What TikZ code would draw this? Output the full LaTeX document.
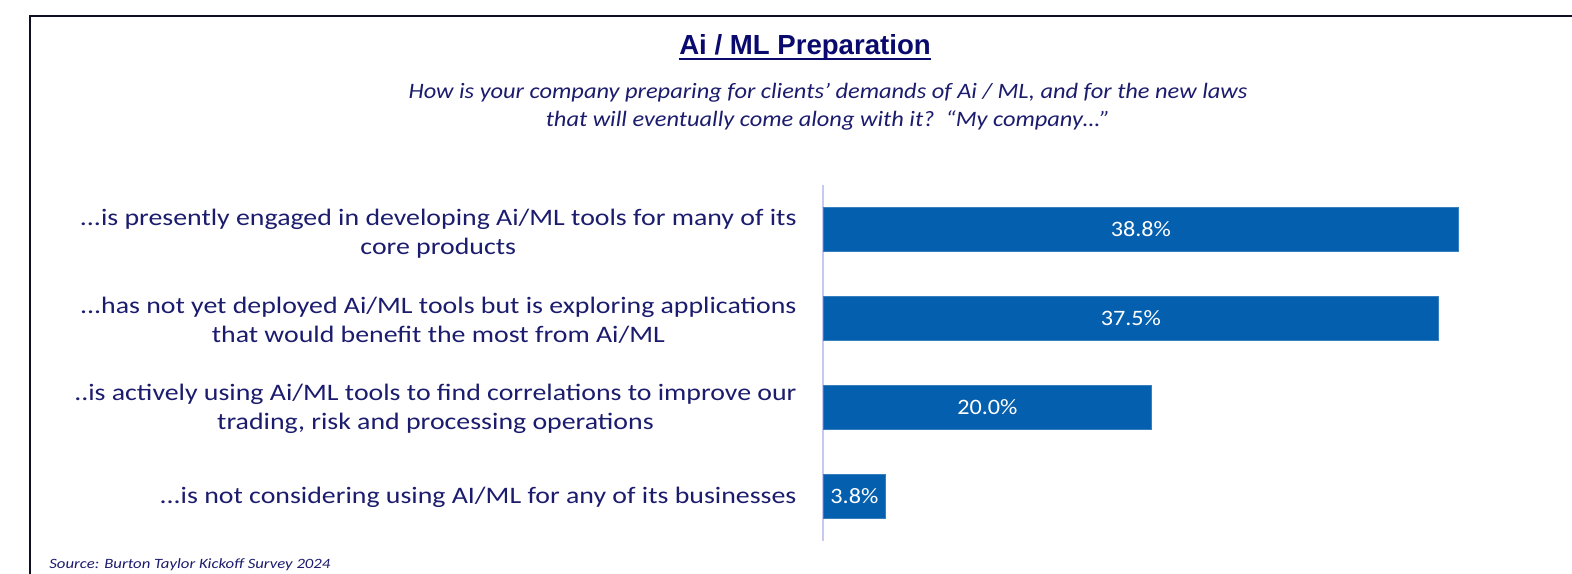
\documentclass[tikz,border=0pt]{standalone}
\usepackage{fontspec}
\setmainfont{Carlito}
\newfontfamily\titlefont{Liberation Sans}
\newfontfamily\labelfont[FakeStretch=1.18]{Carlito}
\newfontfamily\subfont[FakeStretch=1.11]{Carlito}
\newfontfamily\valfont[FakeStretch=1.1]{Carlito}
\definecolor{navytxt}{RGB}{28,28,110}
\definecolor{titlenavy}{RGB}{10,10,110}
\definecolor{barblue}{RGB}{5,95,175}
\definecolor{axislav}{RGB}{200,200,240}
\definecolor{framecol}{RGB}{15,15,35}
\begin{document}
\begin{tikzpicture}[x=0.5pt,y=-0.5pt,
  titlestyle/.style={inner sep=0pt,text=titlenavy,font=\titlefont\bfseries\fontsize{13.8}{16}\selectfont},
  ulstyle/.style={draw=titlenavy,line width=1pt},
  subtitlestyle/.style={inner sep=0pt,align=center,text=navytxt,font=\subfont\itshape\fontsize{11}{14}\selectfont},
  labelstyle/.style={anchor=east,inner sep=0pt,align=center,text=navytxt,font=\labelfont\fontsize{11.8}{14.5}\selectfont},
  barstyle/.style={anchor=west,fill=barblue,draw=barblue!80!white,line width=0.4pt,minimum height=22pt,inner sep=0pt,text=white,font=\valfont\fontsize{11}{12}\selectfont},
  axisstyle/.style={draw=axislav,line width=0.8pt},
  framestyle/.style={draw=framecol,line width=1.4pt},
  sourcestyle/.style={inner sep=0pt,anchor=base west,text=navytxt,font=\labelfont\itshape\fontsize{7.1}{8}\selectfont}
]
\useasboundingbox (0,0) rectangle (1572,573);
\fill[white] (0,0) rectangle (1572,573);
% frame
\coordinate (fbl) at (30,580);
\coordinate (ftl) at (30,16);
\coordinate (ftr) at (1580,16);
\draw[framestyle] (fbl) -- (ftl) -- (ftr);
% title
\node[titlestyle] (title) at (805,47) {Ai / ML Preparation};
\draw[ulstyle] ([yshift=-2.6pt]title.base west) -- ([yshift=-2.6pt]title.base east);
\node[subtitlestyle] (subtitle) at (828,107) {How is your company preparing for clients’ demands of Ai / ML, and for the new laws\\that will eventually come along with it?\ \ “My company…”};
% axis
\coordinate (axtop) at (823,185);
\coordinate (axbot) at (823,541);
\draw[axisstyle] (axtop) -- (axbot);
% labels
\node[labelstyle] (l1) at (797,234) {...is presently engaged in developing Ai/ML tools for many of its\\core products};
\node[labelstyle] (l2) at (797,320) {...has not yet deployed Ai/ML tools but is exploring applications\\that would benefit the most from Ai/ML};
\node[labelstyle] (l3) at (797,409) {..is actively using Ai/ML tools to find correlations to improve our\\trading, risk and processing operations};
\node[labelstyle] (l4) at (797,497) {...is not considering using AI/ML for any of its businesses};
% bars
\node[barstyle,minimum width=317.5pt] (b1) at (823,229.5) {38.8\%};
\node[barstyle,minimum width=307.5pt] (b2) at (823,318) {37.5\%};
\node[barstyle,minimum width=164pt] (b3) at (823,407) {20.0\%};
\node[barstyle,minimum width=31pt] (b4) at (823,496) {3.8\%};
% source
\node[sourcestyle] (source) at (49,568.5) {Source: Burton Taylor Kickoff Survey 2024};
\end{tikzpicture}
\end{document}
